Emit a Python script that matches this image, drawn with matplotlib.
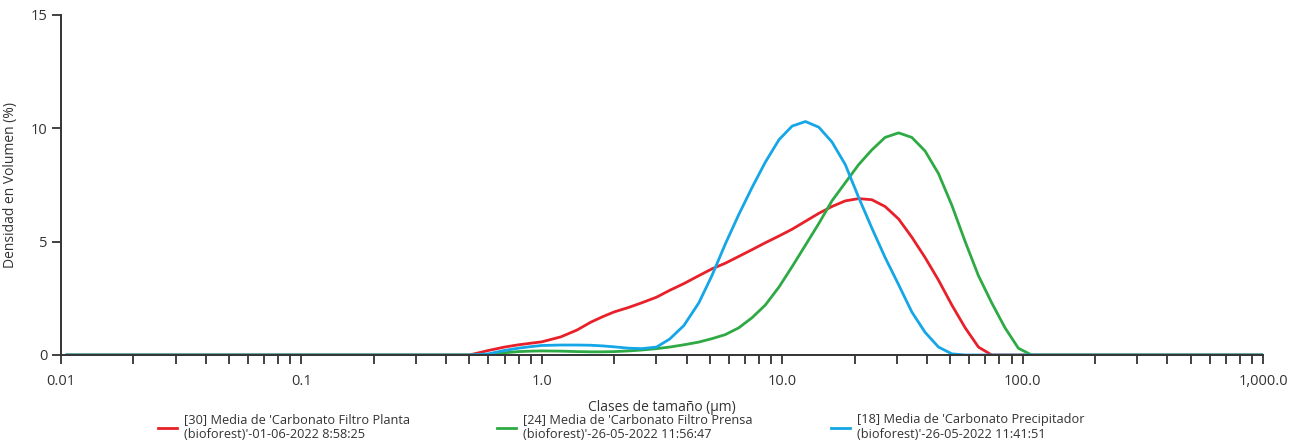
import matplotlib
matplotlib.use("Agg")
import matplotlib.pyplot as plt
from matplotlib.ticker import FixedLocator, NullFormatter

plt.rcParams['font.family'] = ['Open Sans', 'DejaVu Sans']

# Particle size classes (µm)
sizes = [0.0106, 0.5, 0.6, 0.7, 0.8, 0.9, 1.0, 1.2, 1.4, 1.6, 1.8, 2.0, 2.3, 2.6,
         3.0, 3.4, 3.9, 4.5, 5.1, 5.8, 6.6, 7.5, 8.5, 9.7, 11, 12.5, 14.2, 16.1,
         18.3, 20.8, 23.6, 26.8, 30.5, 34.6, 39.3, 44.7, 50.8, 57.7, 65.5, 74.4,
         84.5, 96, 109, 1000]

# Volume density (%)
filtro_planta = [0, 0, 0.2, 0.35, 0.45, 0.52, 0.58, 0.8, 1.1, 1.45, 1.7, 1.9, 2.1, 2.3,
                 2.55, 2.85, 3.15, 3.5, 3.8, 4.05, 4.35, 4.65, 4.95, 5.25, 5.55, 5.9, 6.25, 6.55,
                 6.8, 6.9, 6.85, 6.55, 6.0, 5.2, 4.3, 3.3, 2.2, 1.2, 0.35, 0,
                 0, 0, 0, 0]
filtro_prensa = [0, 0, 0.02, 0.1, 0.15, 0.17, 0.18, 0.17, 0.15, 0.14, 0.14, 0.15, 0.18, 0.22,
                 0.28, 0.35, 0.45, 0.57, 0.72, 0.9, 1.2, 1.65, 2.2, 3.0, 3.9, 4.85, 5.8, 6.8,
                 7.6, 8.4, 9.05, 9.6, 9.8, 9.6, 9.0, 8.0, 6.6, 5.0, 3.5, 2.3,
                 1.2, 0.3, 0, 0]
precipitador = [0, 0, 0.05, 0.2, 0.3, 0.37, 0.42, 0.44, 0.44, 0.43, 0.4, 0.36, 0.3, 0.28,
                0.35, 0.7, 1.3, 2.3, 3.5, 4.9, 6.2, 7.4, 8.5, 9.5, 10.1, 10.3, 10.05, 9.4,
                8.4, 6.95, 5.6, 4.3, 3.1, 1.9, 1.0, 0.35, 0.05, 0, 0, 0,
                0, 0, 0, 0]

labels = ["[30] Media de 'Carbonato Filtro Planta\n(bioforest)'-01-06-2022 8:58:25",
          "[24] Media de 'Carbonato Filtro Prensa\n(bioforest)'-26-05-2022 11:56:47",
          "[18] Media de 'Carbonato Precipitador\n(bioforest)'-26-05-2022 11:41:51"]
colors = ["#E8202A", "#2EAA45", "#14A6E6"]

xticks = [0.01, 0.1, 1, 10, 100, 1000]
xticklabels = ["0.01", "0.1", "1.0", "10.0", "100.0", "1,000.0"]
yticks = [0, 5, 10, 15]

W, H = 1315, 447
fig = plt.figure(figsize=(W / 100, H / 100), dpi=100)
ax = fig.add_axes([61 / W, 1 - 355 / H, (1263 - 61) / W, (355 - 15) / H])

lines = []
for ys, c in zip([filtro_planta, filtro_prensa, precipitador], colors):
    ln, = ax.plot(sizes, ys, color=c, lw=2.0, solid_joinstyle='round')
    lines.append(ln)

ax.set_xscale('log')
ax.set_xlim(0.01, 1000)
ax.set_ylim(0, 15)
ax.set_xticks(xticks)
ax.set_xticklabels(xticklabels)
minors = [m * 10.0 ** e for e in range(-2, 3) for m in range(2, 10)]
ax.xaxis.set_minor_locator(FixedLocator(minors))
ax.xaxis.set_minor_formatter(NullFormatter())
ax.set_yticks(yticks)
ax.set_yticklabels([str(v) for v in yticks])

for s in ['top', 'right']:
    ax.spines[s].set_visible(False)
for s in ['left', 'bottom']:
    ax.spines[s].set_color('#333333')
    ax.spines[s].set_linewidth(1.4)
ax.tick_params(axis='both', which='major', length=6.5, width=1.3, color='#333333',
               labelsize=10.5, labelcolor='#333333', pad=3)
ax.tick_params(axis='x', which='major', pad=7)
ax.tick_params(axis='x', which='minor', length=6.5, width=1.3, color='#333333')

ax.set_xlabel("Clases de tamaño (µm)", fontsize=10, color='#333333', labelpad=8)
ax.set_ylabel("Densidad en Volumen (%)", fontsize=10, color='#333333', labelpad=9)

leg_x = [158, 497, 831]
for ln, lab, lx in zip(lines, labels, leg_x):
    fig.legend([ln], [lab], loc='center left', bbox_to_anchor=(lx / W, 1 - 427 / H),
               frameon=False, handlelength=1.45, handletextpad=0.55, borderpad=0,
               borderaxespad=0, fontsize=9.2, labelcolor='#333333')

fig.savefig("out.png", dpi=100)
